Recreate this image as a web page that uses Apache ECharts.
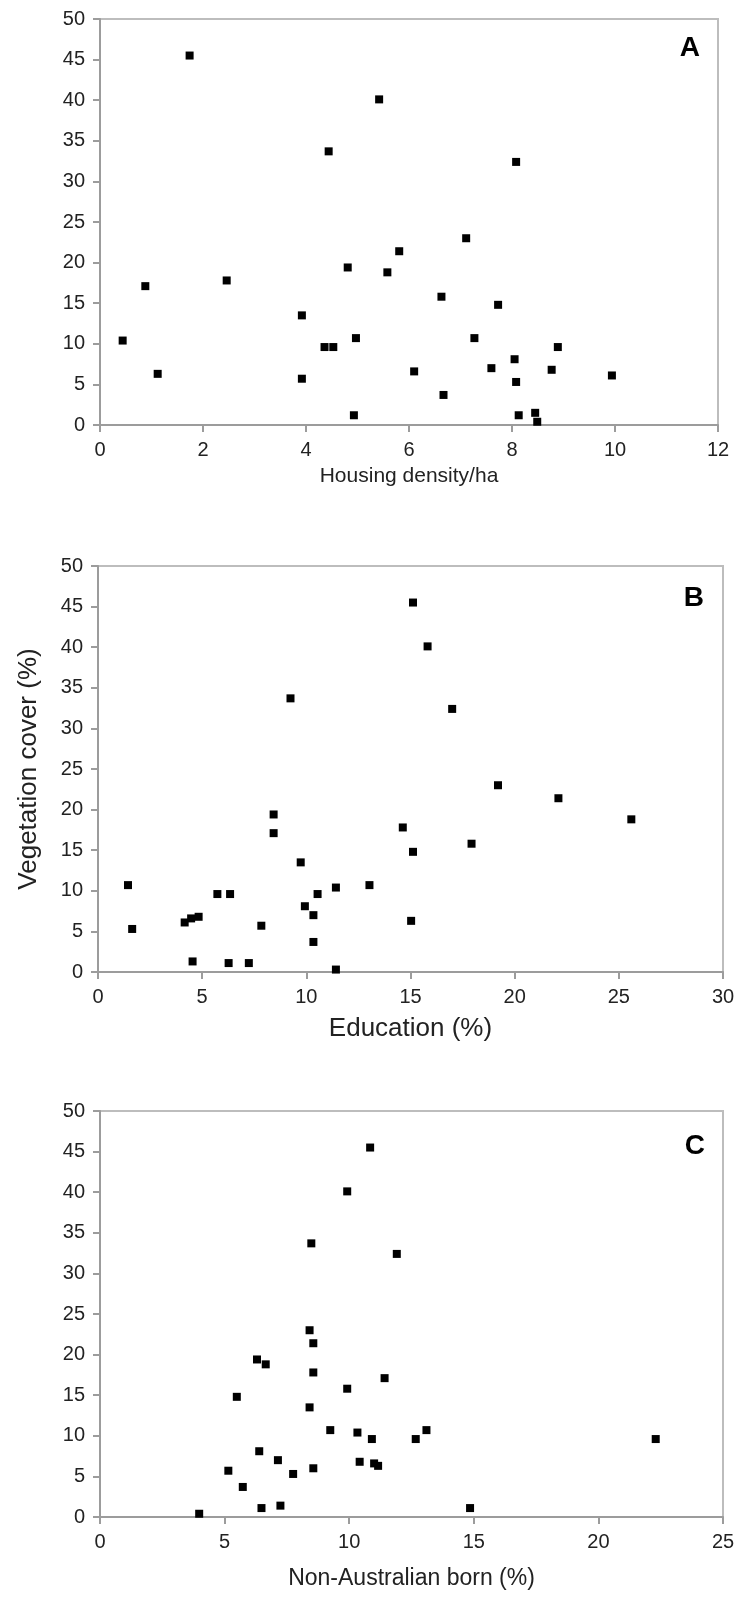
<!DOCTYPE html>
<html>
<head>
<meta charset="utf-8">
<script src="https://cdn.jsdelivr.net/npm/echarts@6/dist/echarts.min.js"></script>
<style>
  html, body { margin: 0; padding: 0; background: #fff; }
  #chart { width: 737px; height: 1597px; }
</style>
</head>
<body>
<div id="chart"></div>
<script>
// panel A: housing density (per ha) vs vegetation cover (%)
var housingDensity = [1.74, 5.42, 4.44, 8.08, 7.11, 5.81, 4.81, 5.58, 2.46, 0.88, 6.63, 7.73, 3.92, 0.44, 4.97, 7.27,
                      4.36, 4.53, 8.89, 8.05, 1.12, 7.60, 8.77, 6.10, 9.94, 3.92, 8.08, 6.67, 4.93, 8.13, 8.45, 8.49];
var vegCoverA = [45.5, 40.1, 33.7, 32.4, 23.0, 21.4, 19.4, 18.8, 17.8, 17.1, 15.8, 14.8, 13.5, 10.4, 10.7, 10.7,
                 9.6, 9.6, 9.6, 8.1, 6.3, 7.0, 6.8, 6.6, 6.1, 5.7, 5.3, 3.7, 1.2, 1.2, 1.5, 0.4];

// panel B: education (%) vs vegetation cover (%)
var education = [15.12, 15.82, 9.24, 17.0, 19.2, 22.1, 8.43, 25.6, 14.63, 8.43, 17.93, 15.12, 9.73, 1.44, 13.03, 11.42,
                 5.73, 6.34, 10.54, 9.93, 10.34, 4.83, 4.47, 4.16, 15.03, 7.84, 1.64, 10.34, 4.54, 6.27, 7.24, 11.42];
var vegCoverB = [45.5, 40.1, 33.7, 32.4, 23.0, 21.4, 19.4, 18.8, 17.8, 17.1, 15.8, 14.8, 13.5, 10.7, 10.7, 10.4,
                 9.6, 9.6, 9.6, 8.1, 7.0, 6.8, 6.6, 6.1, 6.3, 5.7, 5.3, 3.7, 1.3, 1.1, 1.1, 0.3];

// panel C: non-Australian born (%) vs vegetation cover (%)
var nonAusBorn = [10.84, 9.92, 8.48, 11.91, 8.41, 8.56, 6.30, 6.65, 8.56, 11.42, 9.92, 5.49, 8.41, 9.24, 13.1, 10.33,
                  10.91, 12.67, 22.3, 6.39, 7.14, 10.42, 11.0, 11.16, 8.56, 5.15, 7.75, 5.73, 7.24, 6.48, 14.85, 3.98];
var vegCoverC = [45.5, 40.1, 33.7, 32.4, 23.0, 21.4, 19.4, 18.8, 17.8, 17.1, 15.8, 14.8, 13.5, 10.7, 10.7, 10.4,
                 9.6, 9.6, 9.6, 8.1, 7.0, 6.8, 6.6, 6.3, 6.0, 5.7, 5.3, 3.7, 1.4, 1.1, 1.1, 0.4];

var panelLetters = ['A', 'B', 'C'];
var xNames = ['Housing density/ha', 'Education (%)', 'Non-Australian born (%)'];
var xMax = [12, 30, 25];
var xStep = [2, 5, 5];

function pairs(xs, ys) {
    return xs.map(function (x, i) { return [x, ys[i]]; });
}

var FONT = 'Liberation Sans, Arial, sans-serif';
var axisGray = '#9c9c9c';

var grids = [
    { left: 100, top: 19, width: 618, height: 406 },
    { left: 98, top: 566, width: 625, height: 406 },
    { left: 100, top: 1111, width: 623, height: 406 }
];
grids.forEach(function (g) {
    g.show = true;
    g.borderColor = '#bdbdbd';
    g.borderWidth = 2;
    g.backgroundColor = 'transparent';
    g.outerBoundsMode = 'none';
});

var xNameSize = [21, 26, 23];
var xNameGap = [41, 44, 50];

var xAxes = [0, 1, 2].map(function (i) {
    return {
        type: 'value', gridIndex: i, min: 0, max: xMax[i], interval: xStep[i],
        name: xNames[i], nameLocation: 'middle', nameGap: xNameGap[i],
        nameTextStyle: { fontFamily: FONT, fontSize: xNameSize[i], color: '#222' },
        axisLine: { show: true, onZero: false, lineStyle: { color: axisGray, width: 2 } },
        axisTick: { show: true, inside: false, length: 7, lineStyle: { color: axisGray, width: 2 } },
        axisLabel: { fontFamily: FONT, fontSize: 20, color: '#222', margin: 15 },
        splitLine: { show: false }
    };
});

var yAxes = [0, 1, 2].map(function (i) {
    return {
        type: 'value', gridIndex: i, min: 0, max: 50, interval: 5,
        name: i === 1 ? 'Vegetation cover (%)' : '', nameLocation: 'middle', nameGap: 56,
        nameRotate: 90,
        nameTextStyle: { fontFamily: FONT, fontSize: 26, color: '#222' },
        axisLine: { show: true, onZero: false, lineStyle: { color: axisGray, width: 2 } },
        axisTick: { show: true, inside: false, length: 7, lineStyle: { color: axisGray, width: 2 } },
        axisLabel: { fontFamily: FONT, fontSize: 20, color: '#222', margin: 15 },
        splitLine: { show: false }
    };
});

var titles = [
    { text: panelLetters[0], right: 37, top: 34 },
    { text: panelLetters[1], right: 33, top: 584 },
    { text: panelLetters[2], right: 32, top: 1132 }
].map(function (t) {
    t.padding = 0;
    t.textStyle = { fontFamily: FONT, fontSize: 28, fontWeight: 'bold', color: '#000' };
    return t;
});

var seriesData = [pairs(housingDensity, vegCoverA), pairs(education, vegCoverB), pairs(nonAusBorn, vegCoverC)];

var option = {
    animation: false,
    backgroundColor: '#fff',
    title: titles,
    grid: grids,
    xAxis: xAxes,
    yAxis: yAxes,
    series: seriesData.map(function (d, i) {
        return {
            type: 'scatter', xAxisIndex: i, yAxisIndex: i,
            symbol: 'rect', symbolSize: 8,
            itemStyle: { color: '#000', opacity: 1 },
            data: d
        };
    })
};

var myChart = echarts.init(document.getElementById('chart'), null, { renderer: 'canvas' });
myChart.setOption(option);
</script>
</body>
</html>
